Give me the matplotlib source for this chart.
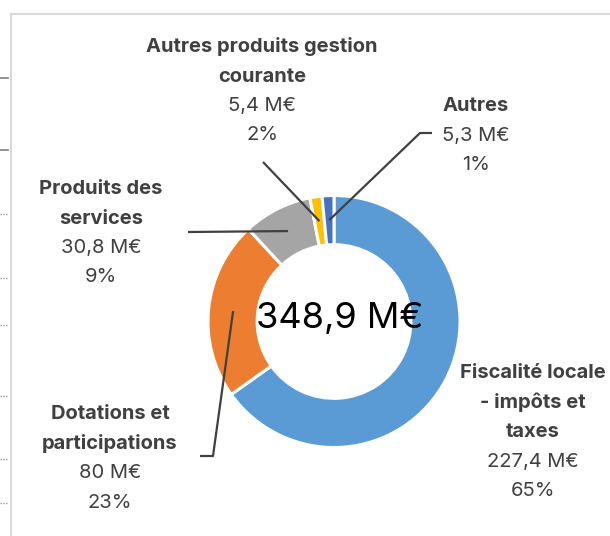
import matplotlib
matplotlib.use("Agg")
import matplotlib.pyplot as plt
import numpy as np
from matplotlib.lines import Line2D

# ---------------- data ----------------
categories = ["Fiscalité locale\n- impôts et\ntaxes",
              "Dotations et\nparticipations",
              "Produits des\nservices",
              "Autres produits gestion\ncourante",
              "Autres"]
values = [227.4, 80.0, 30.8, 5.4, 5.3]
value_labels = ["227,4 M€", "80 M€", "30,8 M€", "5,4 M€", "5,3 M€"]
pct_labels = ["65%", "23%", "9%", "2%", "1%"]
total_label = "348,9 M€"
colors = ["#5B9BD5", "#ED7D31", "#A5A5A5", "#FFC000", "#4472C4"]

# ---------------- layout (pixels) ----------------
W, H = 610, 536
cx, cy, R = 334, 321.5, 126
ring = 0.39
# label block: (x center, y of first line)
label_pos = [(533, 373), (110, 414), (101, 189), (262, 47), (476, 106)]
line_step = 29.5
# leader elbows (None = direct line)
leader_paths = [None,
                [(213, 456), (200, 456)],
                [(188, 232)],
                [(263, 162)],
                [(420, 133), (432, 133)]]

plt.rcParams['font.family'] = ['Inter', 'DejaVu Sans']
fig = plt.figure(figsize=(W / 100, H / 100), dpi=100)

ax = fig.add_axes([(cx - R) / W, (H - cy - R) / H, 2 * R / W, 2 * R / H])
wedges, _ = ax.pie(values, colors=colors, startangle=90, counterclock=False,
                   radius=1.0, wedgeprops=dict(width=ring, edgecolor="white", linewidth=2.2))
ax.set_xlim(-1, 1)
ax.set_ylim(-1, 1)
ax.set_aspect("equal")
ax.axis("off")

ov = fig.add_axes([0, 0, 1, 1], zorder=5)
ov.set_xlim(0, W)
ov.set_ylim(H, 0)
ov.axis("off")
ov.patch.set_alpha(0)

ax.apply_aspect()
to_ov = ax.transData + ov.transData.inverted()

txt_col = "#404040"
for i, (cat, w) in enumerate(zip(categories, wedges)):
    x0, y0 = label_pos[i]
    lines = cat.split("\n")
    for k, ln in enumerate(lines):
        ov.text(x0, y0 + k * line_step, ln, ha="center", va="center",
                fontsize=14.5, fontweight="bold", color=txt_col)
    n = len(lines)
    ov.text(x0, y0 + n * line_step, value_labels[i], ha="center", va="center",
            fontsize=14.5, color=txt_col)
    ov.text(x0, y0 + (n + 1) * line_step, pct_labels[i], ha="center", va="center",
            fontsize=14.5, color=txt_col)
    # leader line
    if leader_paths[i] is not None:
        ang = np.deg2rad((w.theta1 + w.theta2) / 2)
        rm = 1 - ring / 2
        sx, sy = to_ov.transform((rm * np.cos(ang), rm * np.sin(ang)))
        pts = [(sx, sy)] + leader_paths[i]
        xs, ys = zip(*pts)
        ov.plot(xs, ys, color="#404040", lw=1.6, solid_capstyle="butt")

ov.text(cx + 6, 319, total_label, ha="center", va="center", fontsize=26, color="black")

# surrounding frame artefacts
def px_line(x, y, **kw):
    fig.add_artist(Line2D([v / W for v in x], [1 - v / H for v in y], **kw))

px_line([11, 11], [14, 536], color="#d9d9d9", lw=1.5)
px_line([11, 610], [14, 14], color="#d9d9d9", lw=1.5)
for yy in [78, 150]:
    px_line([0, 8], [yy, yy], color="#7f7f7f", lw=1.2)
for yy in [214, 278, 325, 396, 459, 503]:
    px_line([0, 8], [yy, yy], color="#9a9a9a", lw=1.0, linestyle=(0, (1, 1)))

fig.savefig("out.png", dpi=100)
